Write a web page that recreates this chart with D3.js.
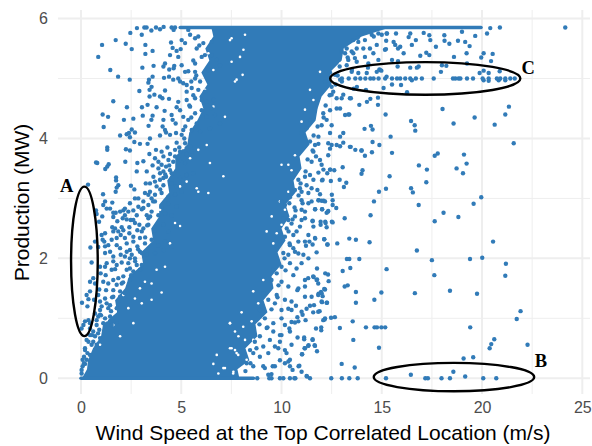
<!DOCTYPE html>
<html>
<head>
<meta charset="utf-8">
<script src="https://cdn.jsdelivr.net/npm/d3@7.9.0/dist/d3.min.js"></script>
<style>
  html, body { margin: 0; padding: 0; background: #fff; }
  svg { display: block; }
</style>
</head>
<body>
<svg id="chart" width="592" height="446"></svg>
<script>
// values: [wind speed m/s, production MW]
const upperLeftPoints = [
  [0.86,5.36],[1.05,5.56],[1.73,5.64],[2.23,5.58],[2.53,5.49],[2.46,5.76],[2.79,5.84],[3.03,5.73],[3.16,5.85],[3.27,5.85],
  [3.51,5.80],[3.74,5.85],[3.94,5.82],[4.12,5.86],[4.52,5.85],[4.69,5.85],[4.62,5.81],[3.21,5.56],[3.21,5.41],[3.57,5.46],
  [1.46,5.14],[1.85,5.03],[2.43,4.98],[3.06,5.18],[3.62,5.21],[3.57,5.03],[3.39,4.98],[3.36,4.93],[3.52,4.86],[3.42,4.81],
  [2.91,4.79],[1.61,4.62],[2.29,4.52],[3.04,4.52],[3.32,4.56],[3.42,4.70],[3.66,4.73],[3.94,4.70],[4.06,4.67],[4.19,4.80],
  [4.39,4.66],[4.14,5.01],[4.39,5.03],[4.6,4.98],[4.85,5.0],[4.19,5.25],[4.11,5.2],[4.4,5.15],[4.62,5.17],[4.65,5.21],
  [4.44,5.39],[4.49,5.6],[4.57,5.51],[4.77,5.46],[4.97,5.49],[4.85,5.36],[5.02,5.22],[5.19,5.11],[5.35,5.12],[5.69,5.25],
  [5.69,5.11],[3.77,4.52],[4.17,4.46],[1.08,4.40],[1.35,4.36],[1.13,4.19],[2.14,4.31],[2.61,4.33],[3.08,4.38],[3.51,4.31],
  [3.57,4.38],[3.37,4.21],[4.11,4.31],[4.07,4.2],[4.19,4.14],[4.52,4.39],[4.57,4.31],[4.72,4.25],[2.53,4.15],[2.69,4.1],
  [1.95,4.05],[2.28,4.07],[2.39,4.09],[2.44,4.02],[3.44,4.0],[3.94,4.05],[4.24,4.1],[4.44,4.06],[4.74,4.09],[5.02,4.06],
  [5.02,5.64],[5.19,5.59],[5.35,5.81],[5.44,5.73],[5.69,5.67],[5.85,5.7],[5.77,5.5],[6.1,5.59],[6.52,5.61],[6.18,5.39],
  [6.02,5.36],[6.52,5.39],[6.35,5.14],[6.77,5.31],[6.93,5.22],[4.94,4.95],[5.1,4.92],[5.27,4.89],[5.52,4.84],[5.69,5.0],
  [5.94,4.95],[5.85,4.81],[6.18,4.78],[5.27,4.78],[4.85,4.61],[4.77,4.52],[4.94,4.47],[5.27,4.64],[5.44,4.53],[5.69,4.67],
  [6.02,4.64],[6.27,4.61],[6.6,4.64],[5.1,4.36],[5.35,4.31],[5.69,4.42],[5.77,4.25],[6.02,4.47],[6.27,4.36],[6.52,4.5],
  [6.68,4.39],[6.43,4.17],[6.93,4.25],[5.52,4.14],[5.94,4.11],[5.1,4.14]
];

const middleLeftPoints = [
  [1.31,3.85],[1.31,3.81],[2.24,3.82],[2.44,3.8],[2.66,3.94],[2.94,3.91],[3.32,3.91],[3.41,3.74],[3.74,3.81],[4.02,3.78],
  [4.31,3.85],[4.44,3.74],[4.77,3.93],[5.19,3.92],[5.44,3.87],[0.75,3.6],[0.81,3.59],[1.38,3.57],[1.31,3.53],[1.21,3.49],
  [2.21,3.61],[2.81,3.59],[3.11,3.62],[3.57,3.55],[2.78,3.45],[3.28,3.45],[3.69,3.67],[3.86,3.61],[4.02,3.56],[4.24,3.53],
  [4.69,3.7],[4.94,3.64],[5.19,3.59],[3.61,3.36],[3.94,3.42],[4.11,3.34],[4.52,3.42],[4.94,3.34],[5.27,3.39],[5.6,3.42],
  [1.75,3.35],[1.75,3.3],[1.86,3.22],[1.78,3.18],[1.73,3.11],[0.35,3.23],[2.49,3.21],[2.66,3.15],[3.23,3.25],[3.77,3.2],
  [4.11,3.22],[4.52,3.25],[4.77,3.2],[3.19,3.09],[3.44,3.11],[3.69,3.06],[4.02,3.09],[4.36,3.03],[4.69,3.06],[5.02,3.11],
  [1.1,3.07],[1.2,2.95],[1.11,2.89],[1.56,2.93],[2.69,3.0],[2.86,3.0],[2.44,2.92],[2.19,2.83],[3.11,2.95],[3.36,2.89],
  [3.69,2.95],[4.02,2.86],[4.36,2.92],[4.77,2.86],[0.75,2.8],[0.78,2.74],[0.9,2.61],[1.06,2.7],[1.28,2.83],[1.45,2.83],
  [1.61,2.76],[1.73,2.76],[1.61,2.69],[2.11,2.8],[2.19,2.72],[2.28,2.65],[2.61,2.8],[2.78,2.72],[2.61,2.64],[3.03,2.82],
  [3.36,2.67],[3.52,2.78],[3.86,2.72],[4.19,2.75],[4.52,2.72],[1.56,2.52],[1.7,2.5],[1.61,2.45],[2.03,2.52],[1.86,2.45],
  [1.03,2.39],[1.2,2.42],[1.08,2.31],[1.16,2.28],[0.7,2.28],[0.47,2.18],[0.86,2.19],[2.41,2.42],[2.19,2.34],[2.28,2.25],
  [2.61,2.36],[2.91,2.56],[3.03,2.45],[3.36,2.56],[3.69,2.47],[4.11,2.56],[4.36,2.45],[4.77,2.53],[2.94,2.34],[3.19,2.25],
  [3.52,2.31],[3.86,2.22],[4.19,2.28],[4.52,2.2],[1.78,2.22],[1.95,2.17],[1.45,2.11],[1.2,2.09],[2.28,2.11],[2.44,2.14],
  [2.53,2.06],[2.19,2.03],[2.94,2.11],[3.28,2.06],[3.69,2.09],[4.11,2.14],
  [1.95,2.78],[2.08,2.67],[1.81,2.62],[2.36,2.78],[2.48,2.64],[2.69,2.59],[1.98,2.39],[1.78,2.34],[1.53,2.31],[2.11,2.47],
  [2.41,2.52],[2.81,2.47],[3.11,2.5],[2.61,2.28],[2.81,2.2],[3.03,2.09],[2.69,2.0],[1.98,2.06],[1.61,2.03],[1.2,2.2],
  [1.36,2.22],[2.44,2.0],[3.36,3.06],[3.52,3.0],[3.11,2.84],[3.28,2.72],[2.86,2.86],[3.94,3.31],[3.69,3.28],[3.44,3.25],
  [4.24,3.36],[4.44,3.47],[4.11,3.45],[3.86,3.5],[4.6,3.61],[4.36,3.64],[4.11,3.7],[4.94,3.78],[4.69,3.81],[5.52,3.78],[5.27,3.74]
];

const lowerLeftPoints = [
  [0.53,1.93],[1.61,1.95],[2.03,1.93],[2.36,1.92],[2.78,1.89],[3.03,1.89],[1.2,1.86],[0.98,1.75],[1.23,1.72],[1.53,1.81],
  [1.7,1.82],[2.28,1.81],[2.61,1.78],[2.94,1.81],[0.61,1.67],[0.45,1.61],[1.11,1.61],[0.7,1.58],[1.86,1.67],[2.03,1.58],
  [1.78,1.56],[0.45,1.45],[0.28,1.39],[0.91,1.48],[1.25,1.47],[1.61,1.47],[1.95,1.36],[2.19,1.42],[0.05,1.26],[0.37,1.32],
  [0.65,1.31],[0.95,1.28],[1.28,1.25],[0.32,1.2],[0.95,1.14],[0.7,1.08],[0.86,1.03],[1.36,1.17],[1.78,1.17],[0.37,0.97],
  [0.2,0.95],[0.45,0.92],[0.12,0.89],[0.78,0.97],[1.11,0.92],[1.53,0.89],[1.78,0.95],[0.03,0.83],[0.61,0.78],[0.91,0.81],
  [0.7,0.7],[0.45,0.72],[0.37,0.61],[0.53,0.56],[0.95,0.67],[0.2,0.5],[0.32,0.42],[0.15,0.36],[0.08,0.31],[0.2,0.24],
  [0.08,0.2],[0.28,0.31],[0.03,0.08],
  [0.95,1.86],[1.28,1.92],[1.78,1.89],[2.44,1.83],[2.11,1.7],[2.44,1.64],[1.61,1.64],[1.36,1.58],[0.86,1.39],[1.2,1.33],
  [1.61,1.36],[1.86,1.28],[1.03,1.2],[1.45,1.22],[0.95,1.06],[1.2,1.0],[1.45,1.03],[0.45,0.83],[0.78,0.89],[0.28,0.64],
  [0.61,0.61],[0.78,0.56],[0.2,0.47],[0.45,0.39],[0.15,0.25],[0.03,0.14]
];

const upperRightPoints = [
  [15.24,5.75],[14.83,5.75],[15.0,5.73],[14.5,5.73],[14.16,5.64],[13.83,5.61],[13.58,5.64],[13.25,5.5],[13.0,5.45],[13.17,5.42],
  [15.16,5.48],[14.75,5.56],[14.41,5.5],[14.08,5.5],[13.75,5.5],[14.58,5.42],[14.16,5.36],[13.58,5.42],[13.66,5.34],[13.33,5.31],
  [13.25,5.22],[14.83,5.31],[14.33,5.25],[13.75,5.28],[12.42,5.1],[12.67,5.06],[13.5,5.11],[13.83,5.09],[14.25,5.09],[14.75,5.11],
  [14.91,5.14],[15.24,5.03],[13.41,4.67],[13.0,4.67],[12.75,4.67],[12.5,4.73],[12.58,4.78],[13.08,4.73],[12.42,4.47],[12.75,4.5],
  [12.92,4.5],[13.17,4.39],[13.33,4.4],[12.08,4.42],[12.25,4.31],[12.5,4.22],[12.0,4.22],[11.84,4.03],[12.42,4.09],[12.92,4.03],
  [13.08,4.09],[11.42,4.31],[11.67,4.5],[11.25,4.17],[11.0,4.09],[12.92,4.98],[12.5,4.86],[12.17,4.95],
  [24.15,5.85],[20.89,5.85],[20.41,5.84],[20.25,5.75],[19.66,5.71],[19.0,5.78],[18.12,5.72],[18.13,5.63],[18.37,5.58],[18.8,5.63],
  [19.16,5.61],[19.38,5.54],[17.7,5.53],[17.37,5.72],[17.42,5.64],[17.09,5.76],[16.42,5.75],[16.34,5.69],[16.7,5.64],[16.5,5.56],
  [15.71,5.75],[15.26,5.75],[15.22,5.63],[15.59,5.61],[15.92,5.53],[15.67,5.56],[15.81,5.5],[15.21,5.49],[16.09,5.42],[16.92,5.38],
  [17.22,5.43],[17.37,5.39],[18.6,5.36],[19.23,5.42],[20.08,5.42],[19.96,5.35],[20.53,5.41],[20.45,5.29],[15.51,5.31],[15.81,5.29],
  [18.0,5.22],[18.22,5.21],[19.25,5.25],[15.79,5.2],[16.42,5.18],[16.84,5.2],[16.75,5.18],[14.88,5.15],[14.98,5.13],[14.31,5.18],
  [13.51,5.14],[17.95,5.11],[19.88,5.09],[20.08,5.13],[20.33,5.09],[20.88,5.12],[13.01,4.95],[20.33,4.96],[20.08,4.97],[20.83,4.97],
  [21.16,4.97],[16.5,4.97],[15.51,4.9],[15.96,4.89],[15.09,4.84],[13.76,4.86],[13.6,4.83],[14.21,4.81],[16.26,4.77],[13.46,4.67],
  [14.81,4.68],[14.43,4.66],[14.26,4.61],[13.88,4.56],[14.81,4.56],[18.03,4.49],[21.34,4.53],[21.16,4.4],[19.63,4.35],[13.38,4.4],
  [15.19,4.4],[16.46,4.29],[16.64,4.22],[16.67,4.13],[18.58,4.25],[20.63,4.23],[14.46,4.21],[14.54,4.15],[14.14,4.16],[15.44,4.03]
];

// the horizontal run of points at about 5 MW inside ellipse C
const rowC = [
  [13.01,5],[13.35,5],[13.68,5],[13.93,5],[14.18,5],[14.43,5],[14.59,5],[14.84,5],[15.17,5],[15.51,5],
  [15.76,5],[15.92,5],[16.17,5],[16.42,5],[16.7,5],[17.0,5],[17.59,5],[18.55,5],[18.67,5],[18.83,5],
  [18.92,5],[19.25,5],[19.55,5],[20.03,5],[20.33,5],[20.74,5],[20.91,5],[21.16,5],[21.41,5],[21.63,5]
];

const middleRightPoints = [
  [21.58,3.92],[14.54,3.94],[14.88,3.89],[14.51,3.77],[14.16,3.71],[13.98,3.8],[13.68,3.81],[13.45,3.86],[15.51,3.76],[17.79,3.75],
  [17.64,3.71],[19.1,3.73],[19.23,3.58],[18.73,3.5],[19.05,3.42],[16.85,3.55],[17.25,3.48],[14.04,3.47],[13.99,3.41],[15.39,3.37],
  [13.05,3.52],[12.63,3.47],[12.43,3.48],[12.9,3.31],[13.23,3.26],[13.11,3.19],[12.46,3.29],[12.02,3.3],[17.22,3.27],[16.46,3.17],
  [16.55,3.1],[15.21,3.16],[14.86,3.11],[19.96,3.02],[19.58,2.91],[14.61,2.95],[16.84,2.89],[12.51,3.06],[12.55,2.97],[12.55,2.89],
  [12.73,2.84],[12.1,2.96],[11.85,2.97],[12.32,2.78],[12.02,2.82],[11.68,2.82],[14.44,2.72],[13.15,2.67],[18.08,2.76],[18.82,2.69],
  [17.64,2.62],[12.51,2.61],[12.18,2.61],[11.55,2.63],
  [13.41,3.86],[14.0,3.8],[13.08,3.93],[12.92,3.87],[12.75,3.89],[12.5,3.89],[12.33,3.92],[12.42,3.83],[12.33,3.72],[11.84,3.91],
  [11.67,3.89],[11.42,3.95],[11.59,3.78],[11.72,3.7],[11.5,3.61],[11.92,3.64],[12.0,3.56],[12.42,3.48],[12.28,3.42],[12.09,3.48],
  [11.84,3.43],[11.42,3.39],[11.17,3.36],[10.84,3.31],[11.59,3.31],[12.05,3.31],[11.25,3.22],[10.92,3.17],[10.67,3.14],[11.5,3.17],
  [11.79,3.14],[11.92,3.07],[11.34,3.09],[11.0,3.11],[10.5,3.11],[11.84,2.97],[12.0,2.96],[12.17,2.95],[11.5,2.95],[11.34,2.92],
  [11.0,2.97],[11.05,2.92],[10.42,3.02],[10.39,2.92],[11.67,2.82],[12.03,2.82],[12.33,2.79],[12.25,2.76],[10.7,2.8],[11.17,2.78],
  [11.0,2.81],[10.17,2.89],[10.01,2.95],[11.55,2.62],[11.59,2.53],[11.95,2.61],[11.95,2.56],[12.2,2.59],[12.25,2.52],[12.55,2.6],
  [11.17,2.67],[11.0,2.64],[10.67,2.7],[10.34,2.64],[10.92,2.53],[10.5,2.58],[10.09,2.67],[11.34,2.39],[10.75,2.45],[10.26,2.5],
  [9.92,2.45],[10.17,2.36],[10.59,2.39],[11.67,2.34],[12.13,2.32],[12.28,2.23],[12.78,2.25],[11.17,2.28],[11.39,2.28],[11.22,2.21],
  [11.55,2.23],[10.84,2.28],[10.42,2.22],[10.59,2.17],[11.75,2.1],[10.67,2.11],[10.84,2.08],[9.92,2.28],[9.76,2.2],[10.09,2.09],
  [10.34,2.06],[11.09,2.06],[11.34,2.0]
];

const lowerRightPoints = [
  [13.38,2.33],[13.71,2.31],[14.39,2.27],[12.13,2.32],[12.3,2.23],[11.68,2.33],[20.55,2.28],[16.75,2.13],[13.26,1.99],[13.38,1.99],
  [13.88,1.99],[17.5,1.97],[19.4,1.99],[20.01,2.01],[21.19,1.91],[21.16,1.71],[13.43,1.84],[13.05,1.79],[15.24,1.82],[17.62,1.72],
  [12.18,1.75],[12.32,1.73],[11.77,1.83],[11.6,1.69],[11.77,1.65],[12.35,1.62],[12.13,1.49],[11.97,1.44],[12.05,1.37],[11.85,1.41],
  [13.15,1.53],[13.3,1.55],[13.71,1.44],[14.98,1.43],[16.65,1.42],[18.4,1.46],[19.75,1.41],[14.63,1.31],[13.71,1.26],[12.02,1.27],
  [12.27,1.26],[12.47,1.01],[12.66,1.02],[12.15,0.98],[11.9,1.12],[13.55,0.95],[12.91,0.84],[14.21,0.85],[14.64,0.85],[14.76,0.85],
  [14.98,0.85],[15.17,0.85],[19.41,0.85],[21.92,1.12],[21.73,0.99],[11.72,0.83],[11.98,0.85],[11.98,0.8],[13.58,0.64],[20.61,0.65],
  [20.46,0.57],[20.38,0.5],[22.27,0.56],[14.86,0.51],[11.55,0.65],[11.65,0.55],[11.77,0.45],[11.35,0.55],[11.15,0.5],[19.08,0.33],
  [19.56,0.35],[13.0,0.24],[13.65,0.18],[18.57,0.11],[16.45,0.06],[19.16,0.03],[11.27,0.03],[10.85,0.2],[11.02,0.4],
  [11.17,1.64],[11.33,1.67],[11.58,1.7],[11.75,1.64],[11.83,1.58],[11.17,1.53],[10.84,1.5],[10.79,1.47],[12.17,1.48],[12.0,1.42],
  [11.83,1.39],[11.5,1.36],[11.17,1.36],[12.0,1.28],[12.25,1.26],[11.42,1.21],[11.62,1.22],[11.25,1.16],[11.0,1.11],[11.58,1.1],
  [11.83,1.11],[10.72,1.21],[10.5,1.14],[10.34,1.16],[11.05,1.06],[10.79,1.02],[11.2,0.97],[10.84,0.95],[10.67,0.93],[10.5,0.94],
  [12.17,1.0],[12.08,0.97],[10.39,0.83],[10.0,1.0],[10.17,0.89],[10.0,0.72],[10.42,0.78],[10.8,0.68],[11.13,0.68],[11.13,0.65],
  [11.55,0.64],[11.33,0.54],[11.17,0.5],[11.67,0.54],[11.03,0.4],[10.5,0.56],[10.17,0.47],[10.25,0.42],[10.42,0.31],[10.34,0.28],
  [10.17,0.25],[9.92,0.61],[9.84,0.5],[9.92,0.3],[10.42,0.2],[10.55,0.14],[10.89,0.21],[11.0,0.11],[11.25,0.04],[9.34,0.06],
  [9.5,0.07],[9.09,0.2],[9.17,0.17],[9.56,0.2],[9.67,0.2],[8.92,0.36],[9.34,0.42],[9.67,0.53],[9.09,0.53],[9.42,0.64],
  [9.92,0.72],[9.59,0.78],[9.26,0.84],[8.92,0.7],[8.67,0.61],[8.43,0.47],[8.59,0.42],[8.09,0.36],[8.26,0.25],[8.59,0.2],
  [8.92,1.14],[9.17,1.0],[9.59,0.92],[10.0,1.14],[9.67,1.25],[9.34,1.31],[9.09,1.42],[9.76,1.39],[10.17,1.31],[10.5,1.28],
  [9.5,1.64],[9.76,1.75],[10.0,1.61],[10.34,1.53],[10.59,1.72],[10.75,1.83],[11.0,1.92],[10.42,1.92],[10.0,1.86],[9.59,1.81]
];

// points along both flanks of the overplotted body
const flankPoints = [
  [5.9,5.55],[5.6,5.3],[5.75,5.05],[5.5,4.95],[5.6,4.72],[5.4,4.55],[5.5,4.35],[5.2,4.2],[5.15,4.0],[4.9,3.85],
  [4.4,3.55],[4.2,3.4],[3.95,3.15],[3.6,2.95],[3.45,2.7],[3.3,2.55],[3.2,2.35],[2.85,2.15],[2.7,1.95],[2.5,1.72],
  [2.1,1.6],[1.95,1.45],[1.55,1.35],[1.5,1.12],[1.0,1.05],[0.85,0.75],[0.55,0.72],
  [14.6,5.7],[13.8,5.68],[13.5,5.45],[13.3,5.35],[12.9,5.2],[12.8,5.05],[12.7,4.9],[12.4,4.72],[12.2,4.55],[12.1,4.35],
  [11.8,4.2],[11.6,4.05],[11.55,3.8],[11.3,3.65],[11.2,3.45],[10.95,3.25],[10.85,3.05],[10.65,2.85],[10.55,2.65],[10.35,2.45],
  [10.4,2.25],[10.15,2.0],[10.2,1.8],[9.85,1.55],[9.8,1.35],[9.5,1.15],[9.3,0.85],[8.9,0.9],[8.75,0.5],[8.45,0.25],[8.2,0.12]
];

// single points sitting on the zero line
const zeroRowWind = [8.79,9.39,9.5,9.92,10.09,10.42,10.64,10.69,11.42,12.48,13.01,13.38,13.8,15.21,17.17,17.3,17.98,18.4,20.06,20.71];

// the overplotted body of the cloud: wind speed limits per production level
const coreProduction = [5.85,5.7,5.5,5.3,5.1,4.9,4.7,4.5,4.3,4.1,3.9,3.7,3.5,3.3,3.1,2.9,2.7,2.5,2.3,2.1,1.9,1.7,1.5,1.3,1.1,0.9,0.7,0.5,0.3,0.15,0];
const coreLeftWind = [6.5,6.6,6.2,6.4,6.0,6.3,5.9,6.1,5.8,5.4,5.3,4.7,4.7,4.3,4.4,3.9,3.9,3.5,3.6,3.0,3.1,2.4,2.2,1.7,1.8,1.1,1.0,0.6,0.35,0.3,0.05];
const coreRightWind = [15.4,14.0,13.1,13.0,12.4,12.5,12.0,11.8,11.7,11.2,11.4,10.9,11.0,10.6,10.7,10.2,10.4,10.0,10.2,9.8,10.0,9.5,9.6,9.1,9.3,8.7,8.8,8.2,8.4,7.8,7.9];

// small unfilled specks left inside the body of the cloud
const cloudGaps = [
  [7.1,0.17],[7.43,0.92],[7.68,0.78],[7.85,0.7],[7.51,0.5],[7.76,0.42],[6.77,0.39],[6.6,0.24],[6.85,0.08],[7.6,0.11],
  [3.52,1.31],[3.03,1.25],[2.69,1.33],[2.36,1.17],[2.61,0.92],[1.95,0.7],[0.95,0.56],[0.45,0.47],[1.61,0.89],[1.28,0.97],
  [2.11,1.39],[3.52,1.58],[3.19,1.61],[3.77,1.81],[4.19,1.86],[2.94,1.5],[4.02,1.43],
  [5.77,3.17],[5.85,3.11],[6.43,3.59],[7.1,3.37],[6.35,3.09],[5.6,3.42],[5.27,3.28],[4.94,3.2],[4.69,2.59],[4.94,2.54],
  [4.44,2.25],[3.94,2.81],[3.69,2.67],[5.44,3.67],[5.1,3.84],[6.27,3.89],[5.85,3.81],
  [10.34,3.56],[10.5,3.47],[10.67,3.72],[10.0,3.56],[9.92,2.95],[10.17,2.81],[9.76,2.42],[9.26,2.45],[10.0,2.56],[9.59,2.25],
  [10.34,3.11],[9.51,2.7],[8.01,1.1],[7.43,0.92],[8.09,0.86],[8.51,0.95],[8.59,1.45],[8.84,1.25],[7.43,0.5],[7.68,0.47],
  [8.18,0.64],[7.84,0.39],[8.59,0.64],[7.18,0.17],[7.59,0.08],[9.09,1.64],[9.59,1.42],[9.92,1.25],[10.09,1.53],[8.26,0.31],
  [11.92,5.11],[11.42,4.81],[11.59,4.64],[11.17,4.48],[12.25,4.59],[11.92,4.34],[11.0,4.28],[13.25,5.48],[13.58,5.53],[12.92,5.25],
  [7.51,5.67],[7.93,5.36],[8.1,5.48],[8.18,5.73],[7.68,4.95],[8.06,5.06],
  [7.51,5.28],[7.76,4.98],[7.18,4.36],[6.43,4.17],[7.43,5.64],[6.6,5.14],[6.35,5.42],[5.94,5.42],[6.18,4.81],[5.85,4.64],
  [5.69,4.39],[6.6,4.53]
];

// saturated and zero rows are unbroken runs of points
const topRow = [[4.95,5.85],[19.95,5.85]];
const bottomRow = [[0,0],[8.6,0]];

const xTicks = [0,5,10,15,20,25];
const xMinorTicks = [2.5,7.5,12.5,17.5,22.5];
const yTicks = [0,2,4,6];
const yMinorTicks = [1,3,5];

// ellipses: centre and half widths in data units
const ellipseNames = ['A','B','C'];
const ellipseWind = [0.17,18.6,17.17];
const ellipseProd = [1.95,0.02,5.0];
const ellipseRadWind = [0.665,4.0,4.74];
const ellipseRadProd = [1.247,0.237,0.272];
const labelWind = [-0.72,22.94,22.3];
const labelProd = [3.1,0.19,5.07];

const blue = '#317bb8';
const gridColor = '#eeeeee';
const panel = { left: 58, right: 590, top: 10, bottom: 394 };

const svg = d3.select('#chart');
const x = d3.scaleLinear().domain([0, 25]).range([81, 582.3]);
const y = d3.scaleLinear().domain([0, 6]).range([378.3, 18.5]);

// === Grid ===
function vGrid(ticks, width) {
  svg.append('g').selectAll('line').data(ticks).join('line')
    .attr('x1', d => x(d)).attr('x2', d => x(d))
    .attr('y1', panel.top).attr('y2', panel.bottom)
    .attr('stroke', gridColor).attr('stroke-width', width);
}
function hGrid(ticks, width) {
  svg.append('g').selectAll('line').data(ticks).join('line')
    .attr('x1', panel.left).attr('x2', panel.right)
    .attr('y1', d => y(d)).attr('y2', d => y(d))
    .attr('stroke', gridColor).attr('stroke-width', width);
}
vGrid(xMinorTicks, 1);
hGrid(yMinorTicks, 1);
vGrid(xTicks, 2);
hGrid(yTicks, 2);

// === Axes (labels only) ===
const xAxis = svg.append('g')
  .attr('transform', `translate(0,${panel.bottom})`)
  .call(d3.axisBottom(x).tickValues(xTicks).tickSize(0).tickPadding(8).tickFormat(d3.format('d')));
const yAxis = svg.append('g')
  .attr('transform', `translate(${panel.left},0)`)
  .call(d3.axisLeft(y).tickValues(yTicks).tickSize(0).tickPadding(10).tickFormat(d3.format('d')));
[xAxis, yAxis].forEach(axis => {
  axis.select('.domain').remove();
  axis.selectAll('text')
    .attr('fill', '#4d4d4d')
    .style('font-family', '"Liberation Sans", Arial, sans-serif')
    .style('font-size', '16px');
});

// === Marks ===
const coreArea = d3.area()
  .x0((d, i) => x(coreLeftWind[i]))
  .x1((d, i) => x(coreRightWind[i]))
  .y(d => y(d))
  .curve(d3.curveLinear);
svg.append('path').datum(coreProduction).attr('d', coreArea).attr('fill', blue);

svg.append('g').selectAll('circle').data(cloudGaps).join('circle')
  .attr('cx', d => x(d[0])).attr('cy', d => y(d[1]))
  .attr('r', 1.3).attr('fill', '#fff');

const rowLine = d3.line().x(d => x(d[0])).y(d => y(d[1]));
[topRow, bottomRow].forEach(row => {
  svg.append('path').datum(row).attr('d', rowLine)
    .attr('stroke', blue).attr('stroke-width', 3.6).attr('stroke-linecap', 'round').attr('fill', 'none');
});

const allPoints = [
  ...upperLeftPoints, ...middleLeftPoints, ...lowerLeftPoints,
  ...upperRightPoints, ...rowC, ...middleRightPoints, ...lowerRightPoints,
  ...flankPoints, ...zeroRowWind.map(w => [w, 0])
];
svg.append('g').selectAll('circle').data(allPoints).join('circle')
  .attr('cx', d => x(d[0])).attr('cy', d => y(d[1]))
  .attr('r', 2.2).attr('fill', blue);

// === Hand-drawn ellipses and their letters ===
svg.append('g').selectAll('ellipse').data(ellipseNames).join('ellipse')
  .attr('cx', (d, i) => x(ellipseWind[i]))
  .attr('cy', (d, i) => y(ellipseProd[i]))
  .attr('rx', (d, i) => x(ellipseRadWind[i]) - x(0))
  .attr('ry', (d, i) => y(0) - y(ellipseRadProd[i]))
  .attr('fill', 'none').attr('stroke', '#000').attr('stroke-width', 2.4);

svg.append('g').selectAll('text').data(ellipseNames).join('text')
  .attr('x', (d, i) => x(labelWind[i]))
  .attr('y', (d, i) => y(labelProd[i]))
  .attr('text-anchor', 'middle')
  .style('font-family', '"Liberation Serif", "Times New Roman", serif')
  .style('font-weight', 'bold')
  .style('font-size', '18.5px')
  .attr('fill', '#000')
  .text(d => d);

// === Axis titles ===
svg.append('text').attr('x', 323).attr('y', 440).attr('text-anchor', 'middle')
  .style('font-family', '"Liberation Sans", Arial, sans-serif').style('font-size', '21px')
  .attr('fill', '#000').text('Wind Speed at the Top Correlated Location (m/s)');
svg.append('text').attr('transform', 'translate(29,202.5) rotate(-90)').attr('text-anchor', 'middle')
  .style('font-family', '"Liberation Sans", Arial, sans-serif').style('font-size', '21px')
  .attr('fill', '#000').text('Production (MW)');
</script>
</body>
</html>
